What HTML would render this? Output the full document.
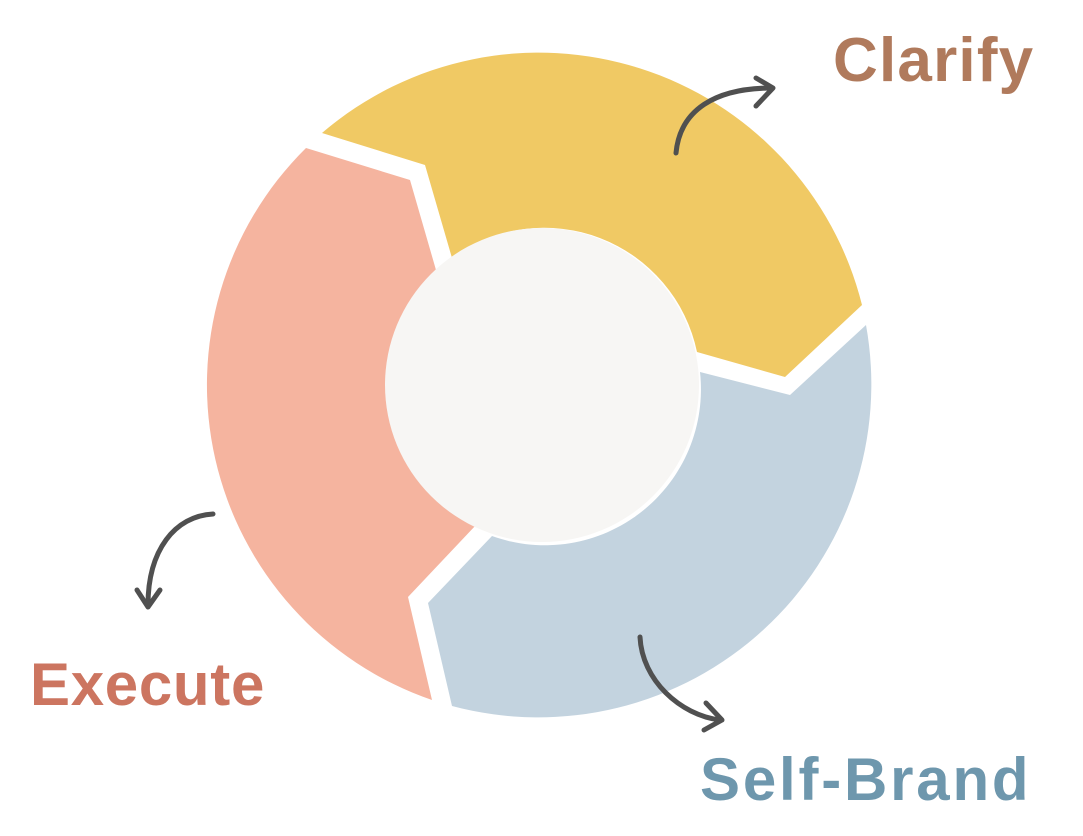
<!DOCTYPE html>
<html><head><meta charset="utf-8"><style>
html,body{margin:0;padding:0;background:#fff;width:1083px;height:836px;overflow:hidden}
svg{display:block}
text{font-family:"Liberation Sans",sans-serif;font-weight:bold}
</style></head><body>
<svg width="1083" height="836" viewBox="0 0 1083 836">
<path fill="#f0c964" d="M322,133 A333,333 0 0 1 862,305 L785,377 L697,352 A156,156 0 0 0 452,258 L425,165 Z"/>
<path fill="#c3d3df" d="M866,325 A333,333 0 0 1 452,706 L428,603 L492,536 A156,156 0 0 0 700,372 L790,395 Z"/>
<path fill="#f5b49f" d="M432,700 A333,333 0 0 1 306,148 L410,180 L436,270 A156,156 0 0 0 476,525 L408,597 Z"/>
<circle cx="542" cy="385" r="157" fill="#f7f6f4"/>
<g fill="none" stroke="#505050" stroke-width="5" stroke-linecap="round" stroke-linejoin="round">
<path d="M676,153 C680,110 715,88 772,88"/>
<path d="M756,78 L773,88 L756,106"/>
<path d="M213,514 C175,516 148,550 148,605"/>
<path d="M137,590 L148,607 L160,590"/>
<path d="M640,637 C642,680 680,715 720,720"/>
<path d="M706,703 L722,720 L704,730"/>
</g>
<text x="833" y="81" font-size="62" fill="#b07a5c" letter-spacing="1.2">Clarify</text>
<text x="30" y="705" font-size="60" fill="#cc7560" letter-spacing="0.7">Execute</text>
<text x="700" y="800" font-size="60" fill="#6e97ad" letter-spacing="2.8">Self-Brand</text>
</svg>
</body></html>
